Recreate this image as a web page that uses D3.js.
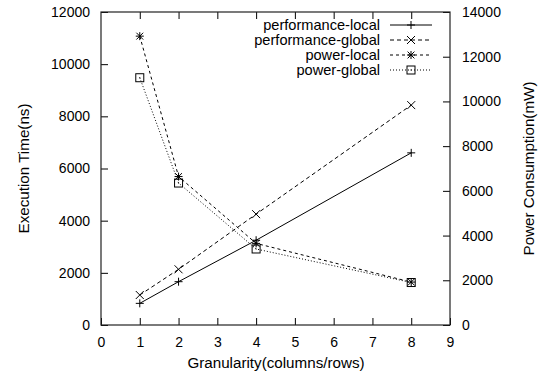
<!DOCTYPE html>
<html>
<head>
<meta charset="utf-8">
<script src="https://cdn.jsdelivr.net/npm/d3@7"></script>
<style>
  body { margin: 0; background: #fff; }
  svg { display: block; font-family: "Liberation Sans", Arial, sans-serif; }
  .tick-label { font-size: 14px; fill: #000; }
  .legend-label { font-size: 14.6px; fill: #000; }
  .axis-title { font-size: 15.2px; fill: #000; }
</style>
</head>
<body>
<svg id="chart" width="554" height="375"></svg>
<script>
// data
const granularity = [1, 2, 4, 8];
const perfLocal = [830, 1660, 3250, 6600];       // ns, left axis
const perfGlobal = [1150, 2135, 4250, 8430];     // ns, left axis
const powerLocal = [12920, 6640, 3650, 1920];    // mW, right axis
const powerGlobal = [11060, 6350, 3400, 1900];   // mW, right axis
const xTicks = [0, 1, 2, 3, 4, 5, 6, 7, 8, 9];
const yTicks = [0, 2000, 4000, 6000, 8000, 10000, 12000];
const y2Ticks = [0, 2000, 4000, 6000, 8000, 10000, 12000, 14000];

const series = [
    {name: 'performance-local', values: perfLocal, axis: 'y', dash: null, marker: 'plus'},
    {name: 'performance-global', values: perfGlobal, axis: 'y', dash: '4,3', marker: 'cross'},
    {name: 'power-local', values: powerLocal, axis: 'y2', dash: '3,3', marker: 'star'},
    {name: 'power-global', values: powerGlobal, axis: 'y2', dash: '1,2', marker: 'box'}
];

const margin = {left: 101, right: 104, top: 12, bottom: 50};
const W = 554, H = 375;
const svg = d3.select('#chart');

const x = d3.scaleLinear().domain([0, 9]).range([margin.left, W - margin.right]);
const y = d3.scaleLinear().domain([0, 12000]).range([H - margin.bottom, margin.top]);
const y2 = d3.scaleLinear().domain([0, 14000]).range([H - margin.bottom, margin.top]);
const scales = {y, y2};
const tick = 7;

// axes: inward ticks like gnuplot
const xAxis = d3.axisBottom(x).tickValues(xTicks).tickSizeInner(-tick).tickSizeOuter(0).tickPadding(12);
const xTop = d3.axisTop(x).tickValues(xTicks.slice(1, -1)).tickSizeInner(-tick).tickSizeOuter(0).tickFormat('');
const yAxis = d3.axisLeft(y).tickValues(yTicks).tickSizeInner(-tick).tickSizeOuter(0).tickPadding(11).tickFormat(d3.format('d'));
const y2Axis = d3.axisRight(y2).tickValues(y2Ticks).tickSizeInner(-tick).tickSizeOuter(0).tickPadding(12).tickFormat(d3.format('d'));

function styleAxis(g) {
    g.select('.domain').remove();
    g.selectAll('.tick line').attr('stroke', '#000').attr('stroke-width', 1);
    g.selectAll('.tick text').attr('class', 'tick-label').attr('font-size', null).attr('font-family', null);
}

svg.append('g').attr('transform', `translate(0,${H - margin.bottom})`).call(xAxis).call(styleAxis);
svg.append('g').attr('transform', `translate(0,${margin.top})`).call(xTop).call(styleAxis);
svg.append('g').attr('transform', `translate(${margin.left},0)`).call(yAxis).call(styleAxis);
svg.append('g').attr('transform', `translate(${W - margin.right},0)`).call(y2Axis).call(styleAxis);

// frame
svg.append('rect')
    .attr('x', margin.left).attr('y', margin.top)
    .attr('width', W - margin.left - margin.right)
    .attr('height', H - margin.top - margin.bottom)
    .attr('fill', 'none').attr('stroke', '#222').attr('stroke-width', 1.2);

// axis titles
const midY = (margin.top + H - margin.bottom) / 2;
svg.append('text').attr('class', 'axis-title')
    .attr('text-anchor', 'middle')
    .attr('transform', `translate(29,${midY}) rotate(-90)`)
    .text('Execution Time(ns)');
svg.append('text').attr('class', 'axis-title')
    .attr('text-anchor', 'middle')
    .attr('transform', `translate(534,${midY}) rotate(-90)`)
    .text('Power Consumption(mW)');
svg.append('text').attr('class', 'axis-title')
    .attr('text-anchor', 'middle')
    .attr('x', 276).attr('y', 368)
    .text('Granularity(columns/rows)');

function drawMarker(g, type, cx, cy) {
    const s = 4;
    const m = g.append('g').attr('transform', `translate(${cx},${cy})`)
        .attr('stroke', '#000').attr('stroke-width', 1).attr('fill', 'none');
    if (type === 'plus' || type === 'star') {
        m.append('line').attr('x1', -s).attr('x2', s).attr('y1', 0).attr('y2', 0);
        m.append('line').attr('x1', 0).attr('x2', 0).attr('y1', -s).attr('y2', s);
    }
    if (type === 'cross' || type === 'star') {
        const c = type === 'star' ? s * 0.85 : s;
        m.append('line').attr('x1', -c).attr('x2', c).attr('y1', -c).attr('y2', c);
        m.append('line').attr('x1', -c).attr('x2', c).attr('y1', c).attr('y2', -c);
    }
    if (type === 'box') {
        m.append('rect').attr('x', -s).attr('y', -s).attr('width', 2 * s).attr('height', 2 * s);
        m.append('rect').attr('x', -0.5).attr('y', -0.5).attr('width', 1).attr('height', 1)
            .attr('fill', '#000').attr('stroke', 'none');
    }
}

// series
series.forEach(s => {
    const ys = scales[s.axis];
    const line = d3.line().x((d, i) => x(granularity[i])).y(d => ys(d));
    const g = svg.append('g');
    g.append('path')
        .attr('d', line(s.values))
        .attr('fill', 'none').attr('stroke', '#000').attr('stroke-width', 1)
        .attr('stroke-dasharray', s.dash);
    s.values.forEach((v, i) => drawMarker(g, s.marker, x(granularity[i]), ys(v)));
});

// legend
const legend = svg.append('g');
series.forEach((s, i) => {
    const ly = 25 + i * 15;
    legend.append('text').attr('class', 'legend-label')
        .attr('text-anchor', 'end').attr('x', 380).attr('y', ly + 5)
        .text(s.name);
    legend.append('line')
        .attr('x1', 390).attr('x2', 432).attr('y1', ly).attr('y2', ly)
        .attr('stroke', '#000').attr('stroke-width', 1)
        .attr('stroke-dasharray', s.dash);
    drawMarker(legend, s.marker, 411, ly);
});
</script>
</body>
</html>
